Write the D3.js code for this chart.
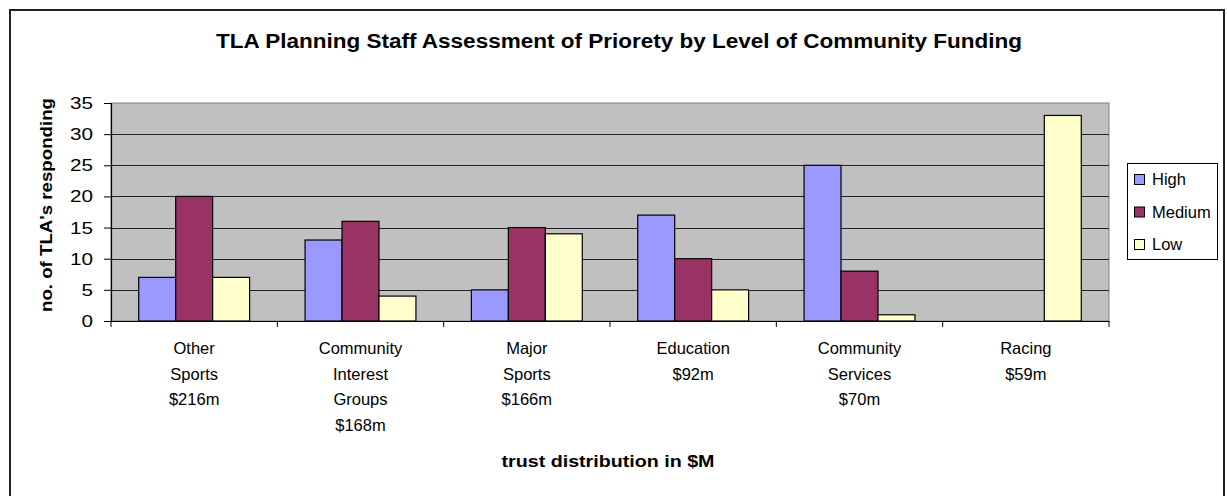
<!DOCTYPE html>
<html>
<head>
<meta charset="utf-8">
<script src="https://cdn.jsdelivr.net/npm/d3@7/dist/d3.min.js"></script>
<style>
  body { margin: 0; background: #fff; }
  svg { display: block; font-family: Arial, "Liberation Sans", sans-serif; }
</style>
</head>
<body>
<svg id="chart" width="1227" height="496"></svg>
<script>
const categories = [
  ["Other", "Sports", "$216m"],
  ["Community", "Interest", "Groups", "$168m"],
  ["Major", "Sports", "$166m"],
  ["Education", "$92m"],
  ["Community", "Services", "$70m"],
  ["Racing", "$59m"]
];
const seriesNames = ["High", "Medium", "Low"];
const high   = [7, 13, 5, 17, 25, 0];
const medium = [20, 16, 15, 10, 8, 0];
const low    = [7, 4, 14, 5, 1, 33];
const yTicks = [0, 5, 10, 15, 20, 25, 30, 35];
const colors = ["#9999FF", "#993366", "#FFFFCC"];

const seriesValues = [high, medium, low];
const catKeys = categories.map((c, i) => String(i));

const svg = d3.select("#chart");
const plot = { left: 111, right: 1109, top: 103, bottom: 321 };

// outer frame
svg.append("rect").attr("x", 10).attr("y", 10).attr("width", 1224 - 10).attr("height", 500)
  .attr("fill", "#fff").attr("stroke", "#222").attr("stroke-width", 2);

const x = d3.scaleBand().domain(catKeys).range([plot.left, plot.right]).paddingInner(0).paddingOuter(0);
const barW = x.bandwidth() / 4.5;
const xs = d3.scaleBand().domain(seriesNames).range([0, barW * 3]);
const y = d3.scaleLinear().domain([0, 35]).range([plot.bottom, plot.top]);

// plot background
svg.append("rect").attr("x", plot.left).attr("y", plot.top)
  .attr("width", plot.right - plot.left).attr("height", plot.bottom - plot.top)
  .attr("fill", "#C0C0C0").attr("stroke", "#808080").attr("stroke-width", 1);

// gridlines
svg.append("g").selectAll("line").data(yTicks.filter(d => d > 0 && d < 35)).join("line")
  .attr("x1", plot.left).attr("x2", plot.right)
  .attr("y1", d => Math.round(y(d)) + 0.5).attr("y2", d => Math.round(y(d)) + 0.5)
  .attr("stroke", "#222").attr("stroke-width", 1.2);

// bars
const groups = svg.append("g").selectAll("g").data(catKeys).join("g")
  .attr("transform", k => `translate(${x(k) + (x.bandwidth() - barW * 3) / 2},0)`);
groups.selectAll("rect").data((k, i) => seriesNames.map((s, j) => ({ s, j, v: seriesValues[j][i] })))
  .join("rect")
  .filter(d => d.v > 0)
  .attr("x", d => xs(d.s))
  .attr("y", d => y(d.v))
  .attr("width", xs.bandwidth())
  .attr("height", d => y(0) - y(d.v))
  .attr("fill", d => colors[d.j])
  .attr("stroke", "#000").attr("stroke-width", 1.2);

// y axis
const yAxis = d3.axisLeft(y).tickValues(yTicks).tickSize(7).tickPadding(11);
const gy = svg.append("g").attr("transform", `translate(${plot.left},0)`).call(yAxis);
gy.select(".domain").attr("stroke", "#000").attr("stroke-width", 1.2);
gy.selectAll(".tick line").attr("stroke", "#000");
gy.selectAll("text").attr("font-size", 17).attr("fill", "#000")
  .attr("font-family", "Arial, 'Liberation Sans', sans-serif")
  .attr("textLength", d => String(d).length * 11.5).attr("lengthAdjust", "spacingAndGlyphs");

// x axis
const xAxis = d3.axisBottom(x).tickSize(0).tickFormat("");
const gx = svg.append("g").attr("transform", `translate(0,${plot.bottom})`).call(xAxis);
gx.select(".domain").attr("stroke", "#000").attr("stroke-width", 1.2);
const bounds = catKeys.map(k => x(k)).concat([x.range()[1]]);
gx.selectAll(".btick").data(bounds).join("line").attr("class", "btick")
  .attr("x1", d => d).attr("x2", d => d).attr("y1", 0).attr("y2", 6)
  .attr("stroke", "#000").attr("stroke-width", 1);

// category labels
const labels = svg.append("g");
categories.forEach((lines, i) => {
  const t = labels.append("text")
    .attr("x", x(catKeys[i]) + x.bandwidth() / 2)
    .attr("y", 354)
    .attr("text-anchor", "middle")
    .attr("font-size", 16.5).attr("fill", "#000");
  lines.forEach((ln, li) => {
    t.append("tspan").attr("x", x(catKeys[i]) + x.bandwidth() / 2)
      .attr("dy", li === 0 ? 0 : 25.5).text(ln);
  });
});

// title
svg.append("text").attr("x", 619).attr("y", 48).attr("text-anchor", "middle")
  .attr("font-size", 19.5).attr("font-weight", "bold").attr("fill", "#000")
  .attr("textLength", 806).attr("lengthAdjust", "spacingAndGlyphs")
  .text("TLA Planning Staff Assessment of Priorety by Level of Community Funding");

// y title
svg.append("text").attr("transform", "translate(52,205) rotate(-90)")
  .attr("text-anchor", "middle").attr("font-size", 17).attr("font-weight", "bold")
  .attr("textLength", 214).attr("lengthAdjust", "spacingAndGlyphs")
  .attr("fill", "#000").text("no. of TLA's responding");

// x title
svg.append("text").attr("x", 608).attr("y", 467).attr("text-anchor", "middle")
  .attr("font-size", 16.5).attr("font-weight", "bold").attr("fill", "#000")
  .attr("textLength", 213).attr("lengthAdjust", "spacingAndGlyphs")
  .text("trust distribution in $M");

// legend
const lg = svg.append("g");
lg.append("rect").attr("x", 1127.5).attr("y", 163.5).attr("width", 90).attr("height", 96)
  .attr("fill", "#fff").attr("stroke", "#000").attr("stroke-width", 1);
const items = lg.selectAll("g.item").data(seriesNames).join("g").attr("class", "item")
  .attr("transform", (d, i) => `translate(0,${179 + i * 32.5})`);
items.append("rect").attr("x", 1134.5).attr("y", -4.5).attr("width", 10).attr("height", 10)
  .attr("fill", (d, i) => colors[i]).attr("stroke", "#000").attr("stroke-width", 1);
items.append("text").attr("x", 1152).attr("y", 6).attr("font-size", 16.5).attr("fill", "#000").text(d => d);
</script>
</body>
</html>
